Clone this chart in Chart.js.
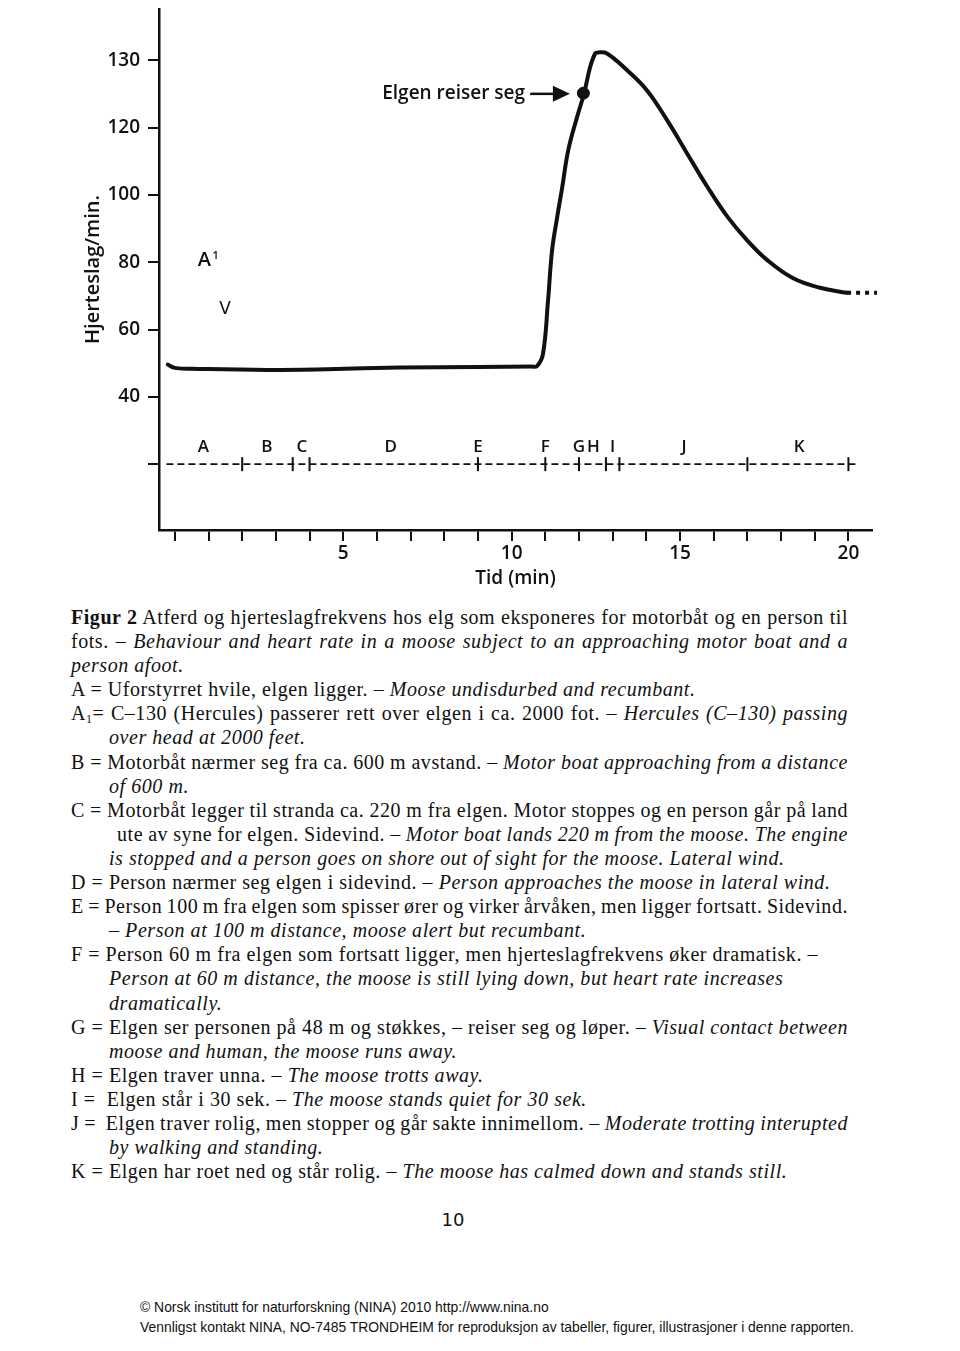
<!DOCTYPE html>
<html lang="no">
<head>
<meta charset="utf-8">
<title>Figur 2 – hjerteslag hos elg</title>
<script src="https://cdn.jsdelivr.net/npm/chart.js@4.4.1/dist/chart.umd.min.js"></script>
<style>
  html, body { margin: 0; padding: 0; background: #fff; }
  body { width: 960px; height: 1351px; position: relative; overflow: hidden; color: #111; }
  #graf { position: absolute; left: 0; top: 0; }
  .tekst { position: absolute; left: 71px; top: 605px; width: 777px;
           font-family: "Liberation Serif", "Times New Roman", serif; font-size: 20px;
           line-height: 24.1px; letter-spacing: 0.55px; }
  .tekst div { white-space: nowrap; }
  .tekst .inn { padding-left: 38px; }
  .tekst .inn2 { padding-left: 46px; }
  .tekst sub { font-size: 12px; vertical-align: -3px; line-height: 0; }
  .side { position: absolute; left: 431px; top: 1209px; width: 44px; text-align: center;
          font-family: "DejaVu Sans", sans-serif; font-size: 18px; }
  .fot { position: absolute; left: 140px; top: 1297px; font-family: "Liberation Sans", Arial, sans-serif;
         font-size: 13.9px; line-height: 20px; white-space: nowrap; }
</style>
</head>
<body>
<canvas id="graf" width="960" height="600"></canvas>

<div class="tekst">
  <div class="j"><span><b>Figur 2</b> Atferd og hjerteslagfrekvens hos elg som eksponeres for motorbåt og en person til</span></div>
  <div class="j"><span>fots. – <i>Behaviour and heart rate in a moose subject to an approaching motor boat and a</i></span></div>
  <div><span><i>person afoot.</i></span></div>
  <div><span>A = Uforstyrret hvile, elgen ligger. – <i>Moose undisdurbed and recumbant.</i></span></div>
  <div class="j"><span>A<sub>1</sub>= C–130 (Hercules) passerer rett over elgen i ca. 2000 fot. – <i>Hercules (C–130) passing</i></span></div>
  <div class="inn"><span><i>over head at 2000 feet.</i></span></div>
  <div class="j"><span>B = Motorbåt nærmer seg fra ca. 600 m avstand. – <i>Motor boat approaching from a distance</i></span></div>
  <div class="inn"><span><i>of 600 m.</i></span></div>
  <div class="j"><span>C = Motorbåt legger til stranda ca. 220 m fra elgen. Motor stoppes og en person går på land</span></div>
  <div class="j inn2"><span>ute av syne for elgen. Sidevind. – <i>Motor boat lands 220 m from the moose. The engine</i></span></div>
  <div class="inn"><span><i>is stopped and a person goes on shore out of sight for the moose. Lateral wind.</i></span></div>
  <div><span>D = Person nærmer seg elgen i sidevind. – <i>Person approaches the moose in lateral wind.</i></span></div>
  <div class="j"><span>E = Person 100 m fra elgen som spisser ører og virker årvåken, men ligger fortsatt. Sidevind.</span></div>
  <div class="inn"><span>– <i>Person at 100 m distance, moose alert but recumbant.</i></span></div>
  <div><span>F = Person 60 m fra elgen som fortsatt ligger, men hjerteslagfrekvens øker dramatisk. –</span></div>
  <div class="inn"><span><i>Person at 60 m distance, the moose is still lying down, but heart rate increases</i></span></div>
  <div class="inn"><span><i>dramatically.</i></span></div>
  <div class="j"><span>G = Elgen ser personen på 48 m og støkkes, – reiser seg og løper. – <i>Visual contact between</i></span></div>
  <div class="inn"><span><i>moose and human, the moose runs away.</i></span></div>
  <div><span>H = Elgen traver unna. – <i>The moose trotts away.</i></span></div>
  <div><span>I = &nbsp;Elgen står i 30 sek. – <i>The moose stands quiet for 30 sek.</i></span></div>
  <div class="j"><span>J = &nbsp;Elgen traver rolig, men stopper og går sakte innimellom. – <i>Moderate trotting interupted</i></span></div>
  <div class="inn"><span><i>by walking and standing.</i></span></div>
  <div><span>K = Elgen har roet ned og står rolig. – <i>The moose has calmed down and stands still.</i></span></div>
</div>

<div class="side">10</div>
<div class="fot">© Norsk institutt for naturforskning (NINA) 2010 http://www.nina.no<br>Vennligst kontakt NINA, NO-7485 TRONDHEIM for reproduksjon av tabeller, figurer, illustrasjoner i denne rapporten.</div>

<script>
// hjertekurven, lest av figuren (minutter / slag per minutt på aksens skala)
const minutter = [-0.21, 0.0, 0.74, 2.73, 4.5, 6.68, 9.0, 10.6, 10.75, 10.93, 11.08, 11.2, 11.35, 11.5, 11.68, 11.94,
  12.15, 12.33, 12.48, 12.57, 12.83, 13.43, 14.02, 14.62, 15.21, 15.81, 16.4, 17.0, 17.59, 18.36, 19.16, 19.96];
const hjerteslag = [49.6, 48.6, 48.3, 48.0, 48.2, 48.7, 48.9, 49.0, 49.1, 52.7, 68.5, 83.4, 93.2, 102.1, 113.2, 123.0,
  130.1, 137.9, 142.0, 142.3, 142.0, 137.0, 131.0, 122.1, 112.3, 102.4, 93.6, 86.4, 80.6, 75.2, 72.4, 70.9];

// prikket fortsettelse til høyre
const haleMinutter = [19.96, 20.85];
const haleSlag = [70.9, 70.9];

// tidslinja med hendelser A-K
const hendelseNivaa = 20;
const hendelseLinje = [-0.25, 20.32];
const hendelseGrenser = [2, 3.5, 4, 9, 11, 12, 12.8, 13.2, 17, 20];
const hendelser = ['A', 'B', 'C', 'D', 'E', 'F', 'G', 'H', 'I', 'J', 'K'];
const hendelseMidt = [0.85, 2.73, 3.77, 6.41, 9.0, 11.0, 12.0, 12.43, 13.0, 15.12, 18.54];
const bokstavNivaa = 25;

// elgen reiser seg
const reiserMinutt = [12.13];
const reiserSlag = [130.2];

// akser
const xTikker = [0, 1, 2, 3, 4, 5, 6, 7, 8, 9, 10, 11, 12, 13, 14, 15, 16, 17, 18, 19, 20];
const xMerket = [5, 10, 15, 20];
const yTikker = [20, 40, 60, 80, 100, 120, 140];
const yEtiketter = ['', '40', '60', '80', '100', '120', '130'];

const svart = '#111';
const skrift = '"Open Sans", "DejaVu Sans", sans-serif';

function punkter(xs, ys) {
  return xs.map((x, i) => ({ x: x, y: ys[i] }));
}

const tekstPlugin = {
  id: 'tekster',
  afterDatasetsDraw(chart) {
    const c = chart.ctx;
    const x = chart.scales.x;
    const y = chart.scales.y;
    c.save();
    c.fillStyle = svart;
    c.strokeStyle = svart;
    c.textBaseline = 'middle';

    // bokstavene over tidslinja
    c.font = '600 17px ' + skrift;
    c.textAlign = 'center';
    hendelser.forEach((b, i) => {
      c.fillText(b, x.getPixelForValue(hendelseMidt[i]), y.getPixelForValue(bokstavNivaa));
    });

    // A1 og pila ned
    const ax = x.getPixelForValue(0.88), ay = y.getPixelForValue(80.7);
    c.font = '600 20px ' + skrift;
    c.fillText('A', ax, ay);
    c.font = '600 11px ' + skrift;
    c.textAlign = 'left';
    c.fillText('1', ax + 8, ay - 4);
    c.font = '400 17px "DejaVu Sans", sans-serif';
    c.textAlign = 'center';
    c.fillText('V', x.getPixelForValue(1.49), y.getPixelForValue(66));

    // Elgen reiser seg + pil
    const ny = y.getPixelForValue(130);
    c.font = '600 19px ' + skrift;
    c.textAlign = 'right';
    c.fillText('Elgen reiser seg', x.getPixelForValue(10.4), ny);
    const fra = x.getPixelForValue(10.55);
    const til = x.getPixelForValue(11.73);
    c.lineWidth = 2.5;
    c.beginPath();
    c.moveTo(fra, ny);
    c.lineTo(til - 14, ny);
    c.stroke();
    c.beginPath();
    c.moveTo(til, ny);
    c.lineTo(til - 17, ny - 8);
    c.lineTo(til - 17, ny + 8);
    c.closePath();
    c.fill();
    c.restore();
  }
};

// ingen ekstra luft for etiketter ved kantene, aksene står fast
function fastAkse(s, bredde, hoyde) {
  if (bredde) s.width = bredde;
  if (hoyde) s.height = hoyde;
  s.paddingTop = 0;
  s.paddingBottom = 0;
  s.paddingLeft = 0;
  s.paddingRight = 0;
}

new Chart(document.getElementById('graf').getContext('2d'), {
  type: 'line',
  data: {
    datasets: [
      {
        data: punkter(minutter, hjerteslag),
        borderColor: svart, borderWidth: 4, pointRadius: 0, tension: 0.4,
        borderCapStyle: 'round', borderJoinStyle: 'round'
      },
      {
        data: punkter(haleMinutter, haleSlag),
        borderColor: svart, borderWidth: 4, pointRadius: 0, borderDash: [4, 5], clip: false
      },
      {
        data: punkter(hendelseLinje, hendelseLinje.map(() => hendelseNivaa)),
        borderColor: svart, borderWidth: 1.8, pointRadius: 0, borderDash: [7, 4]
      },
      {
        data: punkter(hendelseGrenser, hendelseGrenser.map(() => hendelseNivaa)),
        showLine: false, pointStyle: 'line', rotation: 90, pointRadius: 7,
        borderColor: svart, pointBorderWidth: 2
      },
      {
        data: punkter(reiserMinutt, reiserSlag),
        showLine: false, pointRadius: 6, backgroundColor: svart, borderColor: svart
      }
    ]
  },
  options: {
    responsive: false,
    animation: false,
    events: [],
    layout: { padding: { top: 8, right: 88, left: 0, bottom: 0 } },
    plugins: { legend: { display: false }, tooltip: { enabled: false } },
    scales: {
      x: {
        type: 'linear', position: 'bottom', min: -0.47, max: 20.7,
        afterBuildTicks: (s) => { s.ticks = xTikker.map((v) => ({ value: v })); },
        afterFit: (s) => fastAkse(s, 0, 70),
        grid: { drawOnChartArea: false, drawTicks: true, tickLength: 11, color: svart, lineWidth: 2 },
        border: { display: true, color: svart, width: 2.5 },
        ticks: {
          autoSkip: false, maxRotation: 0, padding: 1, color: svart,
          font: { family: skrift, size: 19, weight: '600' },
          callback: (v) => (xMerket.includes(v) ? String(v) : '')
        },
        title: {
          display: true, text: 'Tid (min)', color: svart,
          font: { family: skrift, size: 19, weight: '600' },
          padding: { top: 0, bottom: 10 }
        }
      },
      y: {
        type: 'linear', min: 0.45, max: 155.2,
        afterBuildTicks: (s) => { s.ticks = yTikker.map((v) => ({ value: v })); },
        afterFit: (s) => fastAkse(s, 159, 0),
        grid: { drawOnChartArea: false, drawTicks: true, tickLength: 11, color: svart, lineWidth: 2 },
        border: { display: true, color: svart, width: 2.5 },
        ticks: {
          padding: 8, color: svart,
          font: { family: skrift, size: 19, weight: '600' },
          callback: (v) => yEtiketter[yTikker.indexOf(v)]
        },
        title: {
          display: true, text: 'Hjerteslag/min.', color: svart,
          font: { family: skrift, size: 20, weight: '600' },
          padding: { top: 81, bottom: 0 }
        }
      }
    }
  },
  plugins: [tekstPlugin]
});

// blokkjustering av de fulle linjene i figurteksten
document.querySelectorAll('.tekst .j').forEach(function (linje) {
  const spenn = linje.firstElementChild;
  const cs = getComputedStyle(linje);
  const bredde = linje.clientWidth - parseFloat(cs.paddingLeft);
  const naturlig = spenn.getBoundingClientRect().width;
  const mellomrom = (spenn.textContent.match(/[ \u00a0]/g) || []).length;
  if (mellomrom) spenn.style.wordSpacing = ((bredde - naturlig) / mellomrom) + 'px';
});
</script>
</body>
</html>
